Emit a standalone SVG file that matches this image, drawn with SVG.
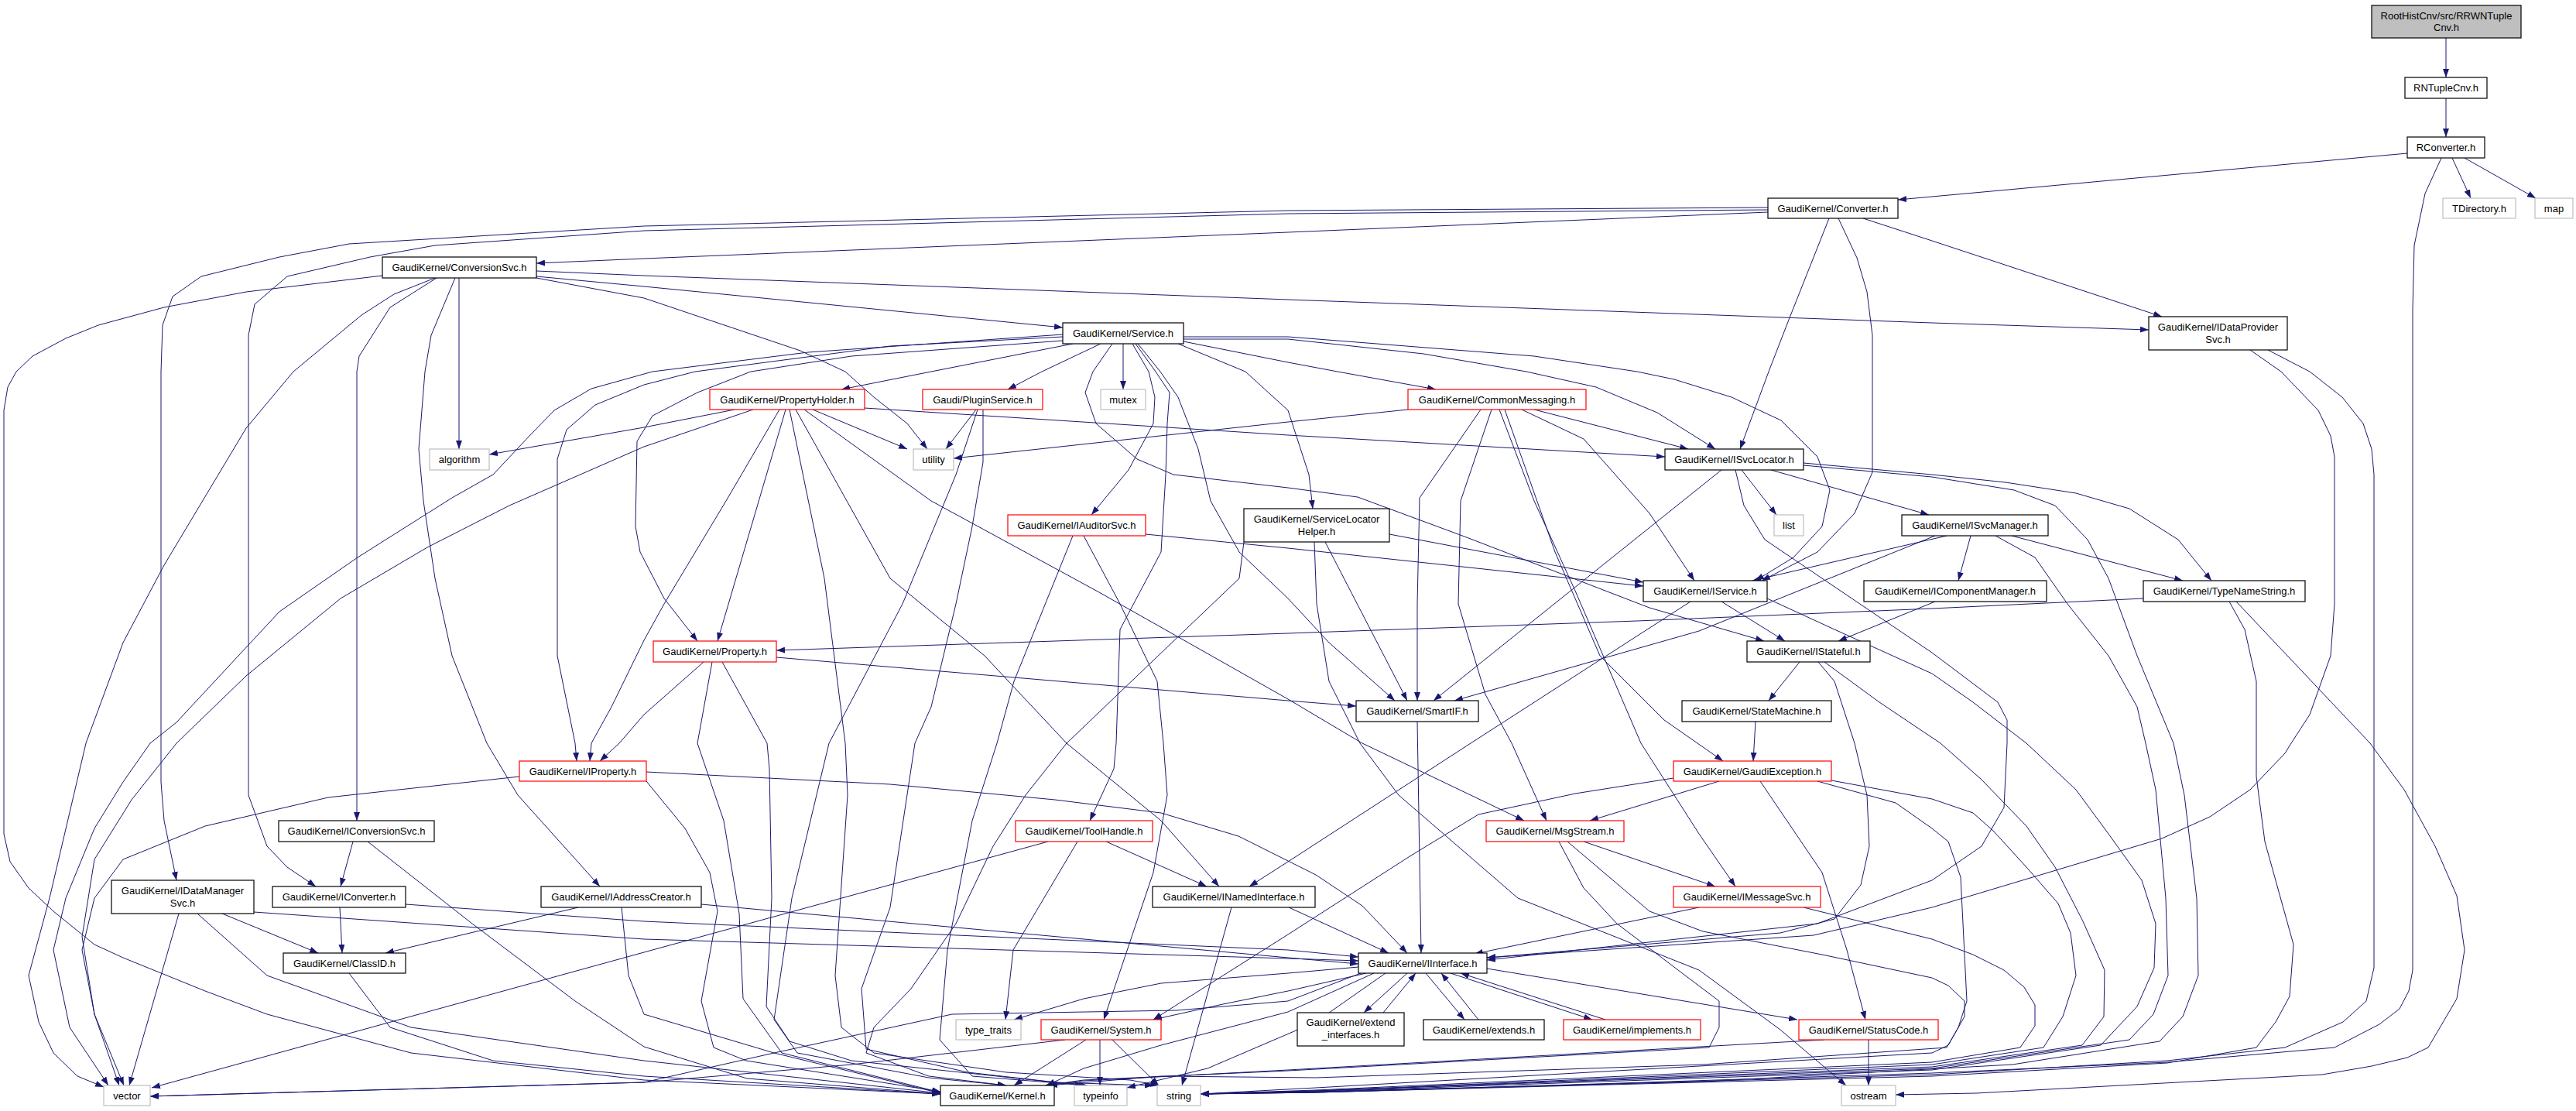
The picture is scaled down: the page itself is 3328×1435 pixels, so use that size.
<svg xmlns="http://www.w3.org/2000/svg" width="3328" height="1435" viewBox="0 0 3328 1435">
<style>
.node rect{fill:#fff;stroke:#000;stroke-width:1.2}
.red rect{stroke:#ff0000}
.ext rect{stroke:#bfbfbf}
.root rect{fill:#bfbfbf}
.node text{font-family:"Liberation Sans",Arial,Helvetica,sans-serif;font-size:13px;text-anchor:middle;fill:#000}
.e{fill:none;stroke:#191970;stroke-width:1;marker-end:url(#a)}
</style>
<defs>
<marker id="a" viewBox="0 0 11 8" refX="11" refY="4" markerWidth="11" markerHeight="8" markerUnits="userSpaceOnUse" orient="auto"><path d="M0,0L11,4L0,8z" fill="#191970"/></marker>
</defs>
<rect x="0" y="0" width="3328" height="1435" fill="#fff"/>
<g id="edges">
<path class="e" d="M3160,49 L3160,100"/>
<path class="e" d="M3160,127 L3160,177"/>
<path class="e" d="M3110,198 L2452,258"/>
<path class="e" d="M3168,204 L3192,256"/>
<path class="e" d="M3184,204 L3276,256"/>
<path class="e" d="M3154,204 L3133,250 L3119,317 L3117,400 L3117,1253 L3112,1280 L3100,1303 L3074,1323 L3016,1353 L2800,1372 L2496,1386 L2000,1402 L1700,1411 L1551,1413"/>
<path class="e" d="M2284,274 L1664,300 L832,334 L693,340"/>
<path class="e" d="M2284,268 L1664,272 L832,292 L451,315 L361,332 L260,357 L223,383 L210,420 L208,480 L208,1010 L212,1060 L228,1137"/>
<path class="e" d="M2284,271 L1664,276 L832,298 L562,317 L478,332 L371,357 L329,393 L321,433 L321,1027 L345,1093 L371,1120 L408,1145"/>
<path class="e" d="M2363,282 L2311,413 L2285,480 L2248,580"/>
<path class="e" d="M2375,282 L2399,333 L2412,377 L2419,433 L2419,610 L2396,663 L2348,713 L2276,750"/>
<path class="e" d="M2407,282 L2496,311 L2793,409"/>
<path class="e" d="M494,356 L318,377 L212,397 L127,420 L85,437 L42,460 L21,480 L10,500 L5,530 L5,1077 L13,1113 L37,1147 L69,1177 L122,1220 L159,1237 L265,1280 L345,1310 L531,1360 L832,1395 L1215,1413"/>
<path class="e" d="M562,359 L509,380 L467,407 L379,480 L318,553 L212,730 L159,830 L111,960 L64,1160 L37,1260 L50,1320 L69,1360 L100,1390 L134,1404"/>
<path class="e" d="M564,359 L504,397 L464,460 L461,480 L461,1060"/>
<path class="e" d="M588,359 L557,433 L549,480 L541,580 L547,647 L562,747 L584,847 L629,960 L669,1027 L775,1145"/>
<path class="e" d="M593,359 L593,580"/>
<path class="e" d="M693,350 L832,356 L1664,387 L2496,417 L2776,426"/>
<path class="e" d="M693,357 L832,370 L1373,423"/>
<path class="e" d="M693,359 L832,385 L1034,453 L1092,480 L1129,513 L1172,547 L1198,580"/>
<path class="e" d="M1373,435 L1150,447 L898,480 L832,497 L769,523 L732,555 L720,593 L720,847 L743,960 L745,983"/>
<path class="e" d="M1373,432 L1044,455 L843,480 L764,502 L716,530 L684,563 L637,613 L584,643 L462,720 L361,790 L228,933 L194,960 L159,1010 L122,1070 L85,1160 L69,1227 L90,1327 L140,1402"/>
<path class="e" d="M1373,440 L1100,460 L970,480 L901,507 L843,537 L823,570 L821,680 L827,713 L858,773 L901,828"/>
<path class="e" d="M1386,444 L1203,480 L1087,503"/>
<path class="e" d="M1422,444 L1346,480 L1302,503"/>
<path class="e" d="M1451,444 L1451,503"/>
<path class="e" d="M1437,444 L1412,480 L1402,507 L1416,547 L1469,593 L1516,613 L1664,630 L1754,642 L1892,693 L2131,785 L2279,828"/>
<path class="e" d="M1463,444 L1484,480 L1492,513 L1490,547 L1458,607 L1410,665"/>
<path class="e" d="M1467,444 L1493,480 L1511,507 L1508,547 L1506,613 L1500,713 L1447,813 L1442,960 L1439,993 L1408,1060"/>
<path class="e" d="M1470,444 L1499,480 L1522,513 L1548,580 L1564,647 L1601,713 L1664,773 L1717,830 L1802,905"/>
<path class="e" d="M1522,444 L1609,480 L1664,530 L1691,613 L1696,657"/>
<path class="e" d="M1529,441 L1664,468 L1728,480 L1855,503"/>
<path class="e" d="M1529,438 L1664,438 L1839,457 L1972,480 L2062,500 L2141,533 L2216,580"/>
<path class="e" d="M1529,435 L1664,435 L1982,460 L2115,480 L2163,490 L2237,513 L2301,543 L2348,590 L2364,633 L2354,680 L2317,720 L2268,750"/>
<path class="e" d="M949,529 L832,552 L632,587"/>
<path class="e" d="M973,529 L832,577 L658,653 L552,707 L440,773 L318,873 L228,960 L170,1033 L122,1110 L106,1210 L122,1310 L154,1402"/>
<path class="e" d="M1007,529 L938,647 L858,780 L832,827 L790,913 L764,960 L762,983"/>
<path class="e" d="M1015,529 L927,828"/>
<path class="e" d="M1020,529 L1065,747 L1092,960 L1095,1027 L1079,1260 L1087,1327 L1129,1360 L1300,1385 L1460,1395 L1497,1402"/>
<path class="e" d="M1028,529 L1150,747 L1272,847 L1378,960 L1500,1060 L1575,1145"/>
<path class="e" d="M1039,529 L1203,647 L1420,765 L1664,903 L1760,960 L1969,1060"/>
<path class="e" d="M1050,529 L1172,580"/>
<path class="e" d="M1117,527 L1664,562 L2151,590"/>
<path class="e" d="M1261,529 L1222,580"/>
<path class="e" d="M1263,529 L1235,613 L1166,780 L1071,960 L1023,1160 L1000,1317 L1030,1360 L1200,1392 L1300,1402"/>
<path class="e" d="M1270,529 L1270,597 L1256,680 L1235,780 L1203,913 L1182,960 L1150,1172 L1113,1277 L1119,1355 L1250,1385 L1400,1402"/>
<path class="e" d="M1819,529 L1664,545 L1232,592"/>
<path class="e" d="M1913,529 L1834,643 L1831,780 L1831,905"/>
<path class="e" d="M1927,529 L1887,647 L1884,780 L1919,897 L1953,960 L1998,1060"/>
<path class="e" d="M1937,529 L1982,647 L2035,763 L2120,960 L2195,1077 L2242,1145"/>
<path class="e" d="M1944,529 L2009,713 L2067,847 L2150,930 L2226,983"/>
<path class="e" d="M1966,529 L2046,567 L2131,663 L2189,750"/>
<path class="e" d="M1982,529 L2181,580"/>
<path class="e" d="M2224,607 L1852,905"/>
<path class="e" d="M2242,607 L2253,653 L2280,697 L2496,843 L2581,907 L2593,930 L2593,960 L2589,1043 L2560,1093 L2496,1137 L2348,1193 L1921,1240"/>
<path class="e" d="M2250,607 L2295,665"/>
<path class="e" d="M2288,607 L2492,665"/>
<path class="e" d="M2330,598 L2496,613 L2591,623 L2682,637 L2751,657 L2814,697 L2857,750"/>
<path class="e" d="M2330,601 L2496,616 L2602,633 L2655,653 L2697,697 L2724,747 L2761,847 L2808,960 L2822,1027 L2838,1160 L2840,1260 L2820,1313 L2790,1345 L2600,1375 L2200,1397 L1700,1410 L1551,1413"/>
<path class="e" d="M2515,692 L2264,750"/>
<path class="e" d="M2500,692 L2195,815 L1879,905"/>
<path class="e" d="M2546,692 L2530,750"/>
<path class="e" d="M2599,692 L2820,750"/>
<path class="e" d="M2578,692 L2629,720 L2671,780 L2724,847 L2761,913 L2772,960 L2785,1020 L2798,1160 L2801,1260 L2782,1310 L2751,1343 L2496,1380 L1700,1409 L1551,1413"/>
<path class="e" d="M2184,777 L1900,960 L1664,1113 L1614,1145"/>
<path class="e" d="M2224,777 L2306,828"/>
<path class="e" d="M2283,773 L2370,813 L2496,870 L2549,907 L2618,960 L2682,1020 L2724,1077 L2767,1137 L2785,1193 L2783,1250 L2761,1300 L2714,1350 L2496,1382 L1700,1410 L1551,1413"/>
<path class="e" d="M2500,777 L2375,828"/>
<path class="e" d="M2769,773 L2496,786 L2115,802 L1664,818 L1003,840"/>
<path class="e" d="M2880,777 L2900,813 L2915,880 L2915,1003 L2926,1087 L2963,1220 L2958,1287 L2940,1320 L2915,1353 L2800,1373 L2496,1390 L1700,1411 L1551,1413"/>
<path class="e" d="M2889,777 L3062,960 L3106,1020 L3146,1093 L3174,1157 L3184,1227 L3174,1290 L3137,1353 L3110,1366 L3064,1377 L3000,1388 L2553,1412 L2449,1414"/>
<path class="e" d="M2907,452 L2947,480 L2995,530 L3011,563 L3016,590 L3016,780 L3011,847 L2984,923 L2960,960 L2952,973 L2907,1020 L2855,1055 L2793,1083 L2496,1172 L2343,1208 L1921,1237"/>
<path class="e" d="M2930,452 L2984,480 L3026,513 L3053,547 L3064,580 L3067,613 L3067,1250 L3057,1293 L3027,1320 L2952,1353 L2800,1370 L2496,1388 L1700,1411 L1551,1413"/>
<path class="e" d="M2325,855 L2285,905"/>
<path class="e" d="M2349,855 L2370,880 L2396,960 L2412,1027 L2415,1093 L2404,1143 L2370,1187 L2300,1205 L1921,1237"/>
<path class="e" d="M2357,855 L2428,907 L2507,960 L2560,1007 L2618,1067 L2655,1120 L2691,1190 L2719,1253 L2718,1313 L2690,1350 L2496,1378 L1700,1409 L1551,1413"/>
<path class="e" d="M1831,932 L1836,1231"/>
<path class="e" d="M2268,932 L2265,983"/>
<path class="e" d="M2162,1005 L2035,1025 L1910,1052 L1823,1105 L1664,1207 L1490,1317"/>
<path class="e" d="M2221,1009 L2054,1060"/>
<path class="e" d="M2274,1009 L2354,1127 L2386,1227 L2410,1317"/>
<path class="e" d="M2366,1008 L2496,1032 L2549,1050 L2575,1073 L2618,1120 L2659,1167 L2675,1205 L2682,1260 L2665,1313 L2640,1353 L2496,1375 L1700,1409 L1551,1413"/>
<path class="e" d="M2348,1009 L2449,1037 L2496,1070 L2517,1087 L2533,1133 L2541,1293 L2530,1327 L2515,1353 L2200,1375 L1700,1392 L1500,1390 L1355,1402"/>
<path class="e" d="M2046,1087 L2216,1145"/>
<path class="e" d="M2014,1087 L2046,1147 L2089,1193 L2168,1253 L2221,1293 L2221,1327 L2208,1353 L1664,1383 L1400,1395 L1350,1402"/>
<path class="e" d="M2025,1087 L2131,1177 L2200,1203 L2354,1233 L2496,1263 L2517,1273 L2538,1293 L2538,1313 L2517,1350 L2496,1360 L1700,1405 L1551,1413"/>
<path class="e" d="M1698,700 L1701,780 L1717,880 L1757,960 L1807,1027 L1961,1160 L2195,1253 L2300,1330 L2385,1402"/>
<path class="e" d="M2195,1172 L1905,1232"/>
<path class="e" d="M2330,1172 L2496,1213 L2549,1233 L2589,1253 L2615,1275 L2629,1298 L2629,1325 L2610,1353 L2496,1372 L1700,1408 L1551,1413"/>
<path class="e" d="M2414,1343 L2414,1402"/>
<path class="e" d="M2357,1343 L1664,1382 L1400,1396 L1352,1402"/>
<path class="e" d="M1403,1343 L1310,1402"/>
<path class="e" d="M1421,1343 L1421,1402"/>
<path class="e" d="M1437,1343 L1497,1402"/>
<path class="e" d="M1376,1343 L1100,1375 L832,1398 L194,1416"/>
<path class="e" d="M1818,1257 L1762,1308"/>
<path class="e" d="M1842,1257 L1892,1317"/>
<path class="e" d="M1874,1257 L2057,1317"/>
<path class="e" d="M1921,1251 L2322,1317"/>
<path class="e" d="M1765,1257 L1664,1280 L1580,1297 L1490,1317"/>
<path class="e" d="M1755,1249 L1664,1257 L1500,1270 L1400,1290 L1310,1317"/>
<path class="e" d="M1775,1257 L1664,1307 L1500,1350 L1400,1380 L1352,1402"/>
<path class="e" d="M1758,1257 L1664,1293 L1520,1305 L1230,1310 L1000,1360 L832,1398 L194,1416"/>
<path class="e" d="M1790,1257 L1700,1320 L1560,1380 L1456,1405"/>
<path class="e" d="M671,1003 L424,1030 L265,1067 L159,1110 L122,1160 L106,1227 L122,1310 L160,1402"/>
<path class="e" d="M835,997 L1150,1013 L1363,1033 L1500,1050 L1600,1080 L1700,1130 L1760,1170 L1818,1231"/>
<path class="e" d="M835,1009 L885,1070 L917,1127 L927,1177 L906,1293 L922,1353 L964,1370 L1215,1410"/>
<path class="e" d="M1003,849 L1664,905 L1752,912"/>
<path class="e" d="M909,855 L832,923 L800,960 L775,983"/>
<path class="e" d="M920,855 L901,960 L935,1060 L955,1180 L960,1290 L1010,1360 L1215,1411"/>
<path class="e" d="M933,855 L991,960 L994,993 L997,1160 L990,1300 L1020,1345 L1100,1370 L1363,1398 L1490,1402"/>
<path class="e" d="M1354,1087 L832,1230 L196,1405"/>
<path class="e" d="M1392,1087 L1309,1227 L1299,1317"/>
<path class="e" d="M1429,1087 L1559,1145"/>
<path class="e" d="M1665,1172 L1794,1231"/>
<path class="e" d="M1591,1172 L1527,1402"/>
<path class="e" d="M231,1180 L167,1402"/>
<path class="e" d="M287,1180 L411,1231"/>
<path class="e" d="M328,1178 L832,1213 L1664,1238 L1755,1241"/>
<path class="e" d="M255,1180 L345,1260 L531,1327 L832,1370 L1215,1412"/>
<path class="e" d="M439,1172 L442,1231"/>
<path class="e" d="M524,1168 L832,1190 L1664,1227 L1755,1236"/>
<path class="e" d="M747,1172 L498,1231"/>
<path class="e" d="M906,1168 L1664,1237 L1755,1245"/>
<path class="e" d="M803,1172 L812,1260 L832,1310 L1000,1360 L1215,1412"/>
<path class="e" d="M456,1087 L440,1145"/>
<path class="e" d="M475,1087 L610,1193 L743,1293 L832,1352 L965,1393 L1215,1413"/>
<path class="e" d="M451,1257 L504,1327 L637,1370 L832,1390 L1215,1413"/>
<path class="e" d="M1787,1308 L1829,1257"/>
<path class="e" d="M1910,1317 L1862,1257"/>
<path class="e" d="M2074,1317 L1887,1257"/>
<path class="e" d="M1480,690 L1664,708 L2123,757"/>
<path class="e" d="M1386,692 L1310,880 L1288,960 L1256,1060 L1224,1227 L1214,1343 L1256,1390 L1405,1402"/>
<path class="e" d="M1400,692 L1447,780 L1495,880 L1503,960 L1508,1027 L1490,1127 L1426,1317"/>
<path class="e" d="M1795,690 L2123,752"/>
<path class="e" d="M1712,700 L1818,905"/>
<path class="e" d="M1607,700 L1601,747 L1378,960 L1325,1027 L1283,1093 L1235,1193 L1177,1277 L1129,1327 L1119,1360 L1200,1390 L1300,1402"/>
</g>
<g id="n_root" class="node root"><rect x="3064" y="7" width="193" height="42"/><text x="3160.5" y="24.5">RootHistCnv/src/RRWNTuple</text><text x="3160.5" y="40">Cnv.h</text></g>
<g id="n_RNTupleCnv" class="node"><rect x="3107" y="100" width="106" height="27"/><text x="3160" y="118">RNTupleCnv.h</text></g>
<g id="n_RConverter" class="node"><rect x="3110" y="177" width="100" height="27"/><text x="3160" y="195">RConverter.h</text></g>
<g id="n_TDirectory" class="node ext"><rect x="3156" y="256" width="94" height="26"/><text x="3203" y="273.5">TDirectory.h</text></g>
<g id="n_map" class="node ext"><rect x="3275" y="256" width="49" height="26"/><text x="3299.5" y="273.5">map</text></g>
<g id="n_Converter" class="node"><rect x="2284" y="256" width="168" height="26"/><text x="2368" y="273.5">GaudiKernel/Converter.h</text></g>
<g id="n_IDataProviderSvc" class="node"><rect x="2776" y="409" width="179" height="43"/><text x="2865.5" y="427">GaudiKernel/IDataProvider</text><text x="2865.5" y="443">Svc.h</text></g>
<g id="n_ConversionSvc" class="node"><rect x="494" y="332" width="199" height="27"/><text x="593.5" y="350">GaudiKernel/ConversionSvc.h</text></g>
<g id="n_Service" class="node"><rect x="1373" y="417" width="156" height="27"/><text x="1451" y="435">GaudiKernel/Service.h</text></g>
<g id="n_PropertyHolder" class="node red"><rect x="917" y="503" width="200" height="26"/><text x="1017" y="520.5">GaudiKernel/PropertyHolder.h</text></g>
<g id="n_PluginService" class="node red"><rect x="1192" y="503" width="155" height="26"/><text x="1269.5" y="520.5">Gaudi/PluginService.h</text></g>
<g id="n_mutex" class="node ext"><rect x="1422" y="503" width="58" height="26"/><text x="1451" y="520.5">mutex</text></g>
<g id="n_CommonMessaging" class="node red"><rect x="1819" y="503" width="230" height="26"/><text x="1934" y="520.5">GaudiKernel/CommonMessaging.h</text></g>
<g id="n_algorithm" class="node ext"><rect x="555" y="580" width="77" height="27"/><text x="593.5" y="598">algorithm</text></g>
<g id="n_utility" class="node ext"><rect x="1180" y="580" width="52" height="27"/><text x="1206" y="598">utility</text></g>
<g id="n_ISvcLocator" class="node"><rect x="2151" y="580" width="179" height="27"/><text x="2240.5" y="598">GaudiKernel/ISvcLocator.h</text></g>
<g id="n_list" class="node ext"><rect x="2292" y="665" width="38" height="27"/><text x="2311" y="683">list</text></g>
<g id="n_IAuditorSvc" class="node red"><rect x="1302" y="665" width="178" height="27"/><text x="1391" y="683">GaudiKernel/IAuditorSvc.h</text></g>
<g id="n_ServiceLocatorHelper" class="node"><rect x="1607" y="657" width="188" height="43"/><text x="1701" y="675">GaudiKernel/ServiceLocator</text><text x="1701" y="691">Helper.h</text></g>
<g id="n_ISvcManager" class="node"><rect x="2457" y="665" width="189" height="27"/><text x="2551.5" y="683">GaudiKernel/ISvcManager.h</text></g>
<g id="n_IService" class="node"><rect x="2123" y="750" width="160" height="27"/><text x="2203" y="768">GaudiKernel/IService.h</text></g>
<g id="n_IComponentManager" class="node"><rect x="2408" y="750" width="236" height="27"/><text x="2526" y="768">GaudiKernel/IComponentManager.h</text></g>
<g id="n_TypeNameString" class="node"><rect x="2769" y="750" width="209" height="27"/><text x="2873.5" y="768">GaudiKernel/TypeNameString.h</text></g>
<g id="n_Property" class="node red"><rect x="844" y="828" width="159" height="27"/><text x="923.5" y="846">GaudiKernel/Property.h</text></g>
<g id="n_IStateful" class="node"><rect x="2257" y="828" width="159" height="27"/><text x="2336.5" y="846">GaudiKernel/IStateful.h</text></g>
<g id="n_SmartIF" class="node"><rect x="1752" y="905" width="158" height="27"/><text x="1831" y="923">GaudiKernel/SmartIF.h</text></g>
<g id="n_StateMachine" class="node"><rect x="2173" y="905" width="193" height="27"/><text x="2269.5" y="923">GaudiKernel/StateMachine.h</text></g>
<g id="n_IProperty" class="node red"><rect x="671" y="983" width="164" height="26"/><text x="753" y="1000.5">GaudiKernel/IProperty.h</text></g>
<g id="n_GaudiException" class="node red"><rect x="2162" y="983" width="204" height="26"/><text x="2264" y="1000.5">GaudiKernel/GaudiException.h</text></g>
<g id="n_IConversionSvc" class="node"><rect x="360" y="1060" width="201" height="27"/><text x="460.5" y="1078">GaudiKernel/IConversionSvc.h</text></g>
<g id="n_ToolHandle" class="node red"><rect x="1312" y="1060" width="177" height="27"/><text x="1400.5" y="1078">GaudiKernel/ToolHandle.h</text></g>
<g id="n_MsgStream" class="node red"><rect x="1920" y="1060" width="178" height="27"/><text x="2009" y="1078">GaudiKernel/MsgStream.h</text></g>
<g id="n_IDataManagerSvc" class="node"><rect x="144" y="1137" width="184" height="43"/><text x="236" y="1155">GaudiKernel/IDataManager</text><text x="236" y="1171">Svc.h</text></g>
<g id="n_IConverter" class="node"><rect x="352" y="1145" width="172" height="27"/><text x="438" y="1163">GaudiKernel/IConverter.h</text></g>
<g id="n_IAddressCreator" class="node"><rect x="699" y="1145" width="207" height="27"/><text x="802.5" y="1163">GaudiKernel/IAddressCreator.h</text></g>
<g id="n_INamedInterface" class="node"><rect x="1489" y="1145" width="210" height="27"/><text x="1594" y="1163">GaudiKernel/INamedInterface.h</text></g>
<g id="n_IMessageSvc" class="node red"><rect x="2162" y="1145" width="190" height="27"/><text x="2257" y="1163">GaudiKernel/IMessageSvc.h</text></g>
<g id="n_ClassID" class="node"><rect x="366" y="1231" width="158" height="26"/><text x="445" y="1248.5">GaudiKernel/ClassID.h</text></g>
<g id="n_IInterface" class="node"><rect x="1755" y="1231" width="166" height="26"/><text x="1838" y="1248.5">GaudiKernel/IInterface.h</text></g>
<g id="n_type_traits" class="node ext"><rect x="1235" y="1317" width="84" height="26"/><text x="1277" y="1334.5">type_traits</text></g>
<g id="n_System" class="node red"><rect x="1345" y="1317" width="155" height="26"/><text x="1422.5" y="1334.5">GaudiKernel/System.h</text></g>
<g id="n_extend_interfaces" class="node"><rect x="1676" y="1308" width="138" height="43"/><text x="1745" y="1325">GaudiKernel/extend</text><text x="1745" y="1341">_interfaces.h</text></g>
<g id="n_extends" class="node"><rect x="1839" y="1317" width="156" height="26"/><text x="1917" y="1334.5">GaudiKernel/extends.h</text></g>
<g id="n_implements" class="node red"><rect x="2020" y="1317" width="177" height="26"/><text x="2108.5" y="1334.5">GaudiKernel/implements.h</text></g>
<g id="n_StatusCode" class="node red"><rect x="2324" y="1317" width="180" height="26"/><text x="2414" y="1334.5">GaudiKernel/StatusCode.h</text></g>
<g id="n_vector" class="node ext"><rect x="134" y="1402" width="60" height="26"/><text x="164" y="1419.5">vector</text></g>
<g id="n_Kernel" class="node"><rect x="1215" y="1402" width="147" height="26"/><text x="1288.5" y="1419.5">GaudiKernel/Kernel.h</text></g>
<g id="n_typeinfo" class="node ext"><rect x="1388" y="1402" width="68" height="26"/><text x="1422" y="1419.5">typeinfo</text></g>
<g id="n_string" class="node ext"><rect x="1495" y="1402" width="56" height="26"/><text x="1523" y="1419.5">string</text></g>
<g id="n_ostream" class="node ext"><rect x="2379" y="1402" width="70" height="26"/><text x="2414" y="1419.5">ostream</text></g>
</svg>
